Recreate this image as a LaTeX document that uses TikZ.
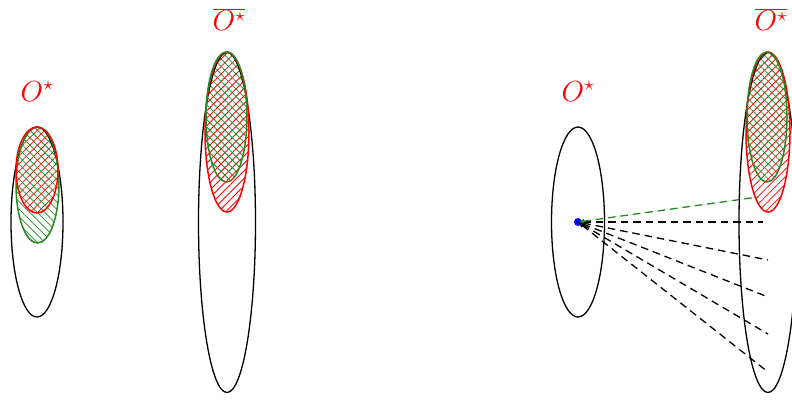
\documentclass[tikz,border=0pt]{standalone}
\usepackage{fix-cm}
\usetikzlibrary{patterns.meta,arrows.meta}
\definecolor{mygreen}{RGB}{34,139,34}
\tikzset{
  blackell/.style={draw=black,line width=1.3pt},
  redell/.style={draw=red,line width=1.5pt},
  greenell/.style={draw=mygreen,line width=1.5pt},
  redhatch/.style={pattern={Lines[angle=45,distance=5.3pt,line width=0.8pt]},pattern color=red},
  greenhatch/.style={pattern={Lines[angle=-45,distance=5.3pt,line width=0.8pt]},pattern color=mygreen},
  lbl/.style={text=red,font=\fontsize{29}{32}\selectfont,inner sep=0pt,anchor=base},
  ray/.style={line width=1.3pt,dash pattern=on 7.5pt off 5pt,{Latex[length=6pt,width=5pt]}-},
}
\begin{document}
\begin{tikzpicture}[x=1pt,y=-1pt]
\clip (0,0) rectangle (792,400);
\path[use as bounding box] (0,0) rectangle (792,400);
% ---- group 1
\path[redhatch] (37,170) ellipse [x radius=21,y radius=43];
\path[greenhatch] (37.5,185) ellipse [x radius=21.5,y radius=58];
\draw[blackell] (37,222) ellipse [x radius=26,y radius=95];
\draw[greenell] (37.5,185) ellipse [x radius=21.5,y radius=58];
\draw[redell] (37,170) ellipse [x radius=21,y radius=43];
\node[lbl] (l1) at (37,101) {$O^\star$};
% ---- group 2
\path[redhatch] (227,132) ellipse [x radius=22,y radius=80];
\path[greenhatch] (226.5,117) ellipse [x radius=20.5,y radius=65];
\draw[blackell] (227,222.5) ellipse [x radius=28.5,y radius=170];
\draw[redell] (227,132) ellipse [x radius=22,y radius=80];
\draw[greenell] (226.5,117) ellipse [x radius=20.5,y radius=65];
\node[lbl] (l2) at (229,30) {$\overline{O^\star}$};
% ---- group 3
\draw[blackell] (578,222) ellipse [x radius=26.5,y radius=95];
\node[lbl] (l3) at (578,101) {$O^\star$};
% ---- group 4
\path[redhatch] (768,132) ellipse [x radius=22,y radius=80];
\path[greenhatch] (767,117) ellipse [x radius=20,y radius=65];
\draw[blackell] (768,222.5) ellipse [x radius=29,y radius=170];
\draw[redell] (768,132) ellipse [x radius=22,y radius=80];
\draw[greenell] (767,117) ellipse [x radius=20,y radius=65];
\node[lbl] (l4) at (771,30) {$\overline{O^\star}$};
% ---- rays
\node[circle,fill=blue,inner sep=0pt,minimum size=8pt] (dot) at (578,222) {};
\coordinate (o) at (578,222);
\coordinate (g) at (758,197);
\coordinate (e1) at (763,222);
\coordinate (e2) at (768,260);
\coordinate (e3) at (768,297);
\coordinate (e4) at (768,334);
\coordinate (e5) at (768,372);
\draw[ray] (o) -- (e5);
\draw[ray] (o) -- (e4);
\draw[ray] (o) -- (e3);
\draw[ray] (o) -- (e2);
\draw[ray] (o) -- (e1);
\draw[ray,draw=mygreen,fill=mygreen] (o) -- (g);
\end{tikzpicture}
\end{document}
